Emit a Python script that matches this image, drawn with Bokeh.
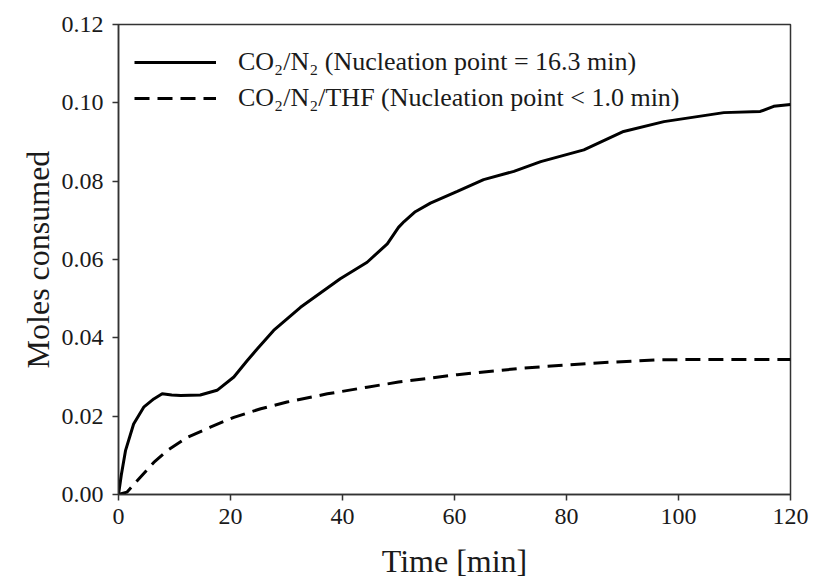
from bokeh.plotting import figure
from bokeh.models import Range1d, FixedTicker, NumeralTickFormatter, Legend, LegendItem
from bokeh.embed import file_html
from bokeh.resources import INLINE

# Data
t_co2n2 = [0, 0.5, 1.25, 2.7, 4.5, 6.3, 7.8, 9.5, 11.1, 14.6, 17.6, 20.6, 23.0, 24.8,
           27.7, 32.5, 39.6, 44.4, 48.0, 50.0, 51.0, 53.0, 55.7, 60.5, 65.2, 70.6, 75.4,
           83.1, 90.2, 97.4, 108.1, 114.6, 117.0, 120]
v_co2n2 = [0.0, 0.005, 0.0112, 0.0180, 0.0223, 0.0244, 0.0257, 0.0254, 0.0253, 0.0254,
           0.0266, 0.0300, 0.0342, 0.0372, 0.0419, 0.0478, 0.0551, 0.0593, 0.0640,
           0.0682, 0.0697, 0.0722, 0.0744, 0.0774, 0.0804, 0.0825, 0.0850, 0.0880,
           0.0927, 0.0952, 0.0975, 0.0978, 0.0991, 0.0996]

t_thf = [0, 1.5, 3.9, 6.3, 8.7, 12.3, 16.4, 20.6, 25.4, 30.1, 37.3, 44.4, 50.0,
         60.5, 72.4, 84.3, 96.2, 108.1, 120]
v_thf = [0.0, 0.0006, 0.0044, 0.0082, 0.0112, 0.0146, 0.0172, 0.0197, 0.0219, 0.0236,
         0.0257, 0.0274, 0.0287, 0.0306, 0.0323, 0.0335, 0.0344, 0.0345, 0.0345]

x_ticks = [0, 20, 40, 60, 80, 100, 120]
y_ticks = [0.0, 0.02, 0.04, 0.06, 0.08, 0.10, 0.12]

label_solid = "CO\u2082/N\u2082 (Nucleation point = 16.3 min)"
label_dash = "CO\u2082/N\u2082/THF (Nucleation point < 1.0 min)"

FONT = "Liberation Serif"
TXT = "#1a1a1a"

p = figure(width=813, height=581, output_backend="svg", toolbar_location=None,
           x_range=Range1d(0, 120), y_range=Range1d(0, 0.12),
           min_border_left=118, min_border_right=23, min_border_top=24,
           min_border_bottom=87)
p.background_fill_color = "white"
p.border_fill_color = "white"
p.grid.visible = False
p.outline_line_color = "#333333"
p.outline_line_width = 1.5

r1 = p.line(t_co2n2, v_co2n2, line_color="black", line_width=3)
r2 = p.line(t_thf, v_thf, line_color="black", line_width=3, line_dash="15 8")

for ax in (p.xaxis[0], p.yaxis[0]):
    ax.axis_line_color = "#333333"
    ax.axis_line_width = 1.5
    ax.major_tick_line_color = "#333333"
    ax.major_tick_line_width = 1.5
    ax.major_tick_in = 0
    ax.major_tick_out = 6
    ax.minor_tick_line_color = None
    ax.major_label_text_font = FONT
    ax.major_label_text_font_size = "24px"
    ax.major_label_text_color = TXT
    ax.axis_label_text_font = FONT
    ax.axis_label_text_font_size = "32px"
    ax.axis_label_text_font_style = "normal"
    ax.axis_label_text_color = TXT

p.xaxis.ticker = FixedTicker(ticks=x_ticks)
p.yaxis.ticker = FixedTicker(ticks=y_ticks)
p.yaxis.formatter = NumeralTickFormatter(format="0.00")
p.xaxis.axis_label = "Time [min]"
p.yaxis.axis_label = "Moles consumed"
p.xaxis.major_label_standoff = 8
p.yaxis.major_label_standoff = 9
p.xaxis.axis_label_standoff = 16
p.yaxis.axis_label_standoff = 3

legend = Legend(items=[LegendItem(label=label_solid, renderers=[r1]),
                       LegendItem(label=label_dash, renderers=[r2])],
                location=(16, 381), padding=0, margin=0, spacing=6,
                glyph_width=82, glyph_height=30, label_height=30,
                label_standoff=22, border_line_color=None,
                background_fill_alpha=0,
                label_text_font=FONT, label_text_font_size="26px",
                label_text_color=TXT)
p.add_layout(legend, "center")

open("out.html", "w").write(file_html(p, INLINE))
